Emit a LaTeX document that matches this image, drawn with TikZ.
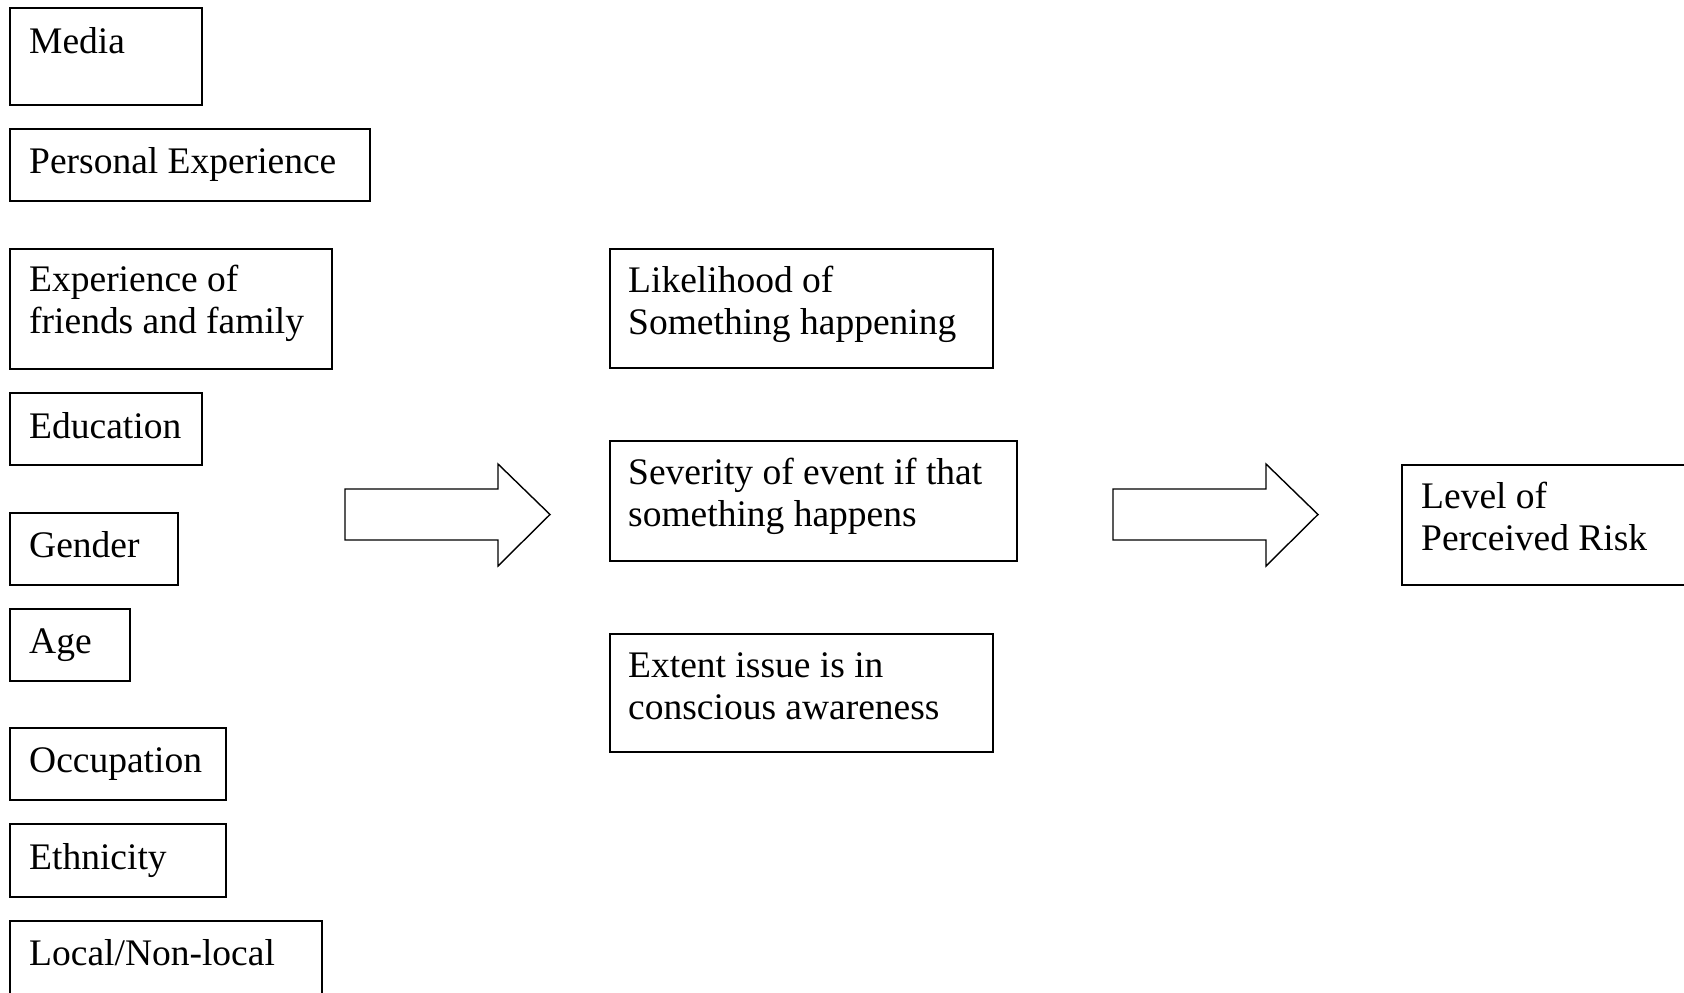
\documentclass[tikz,border=0pt]{standalone}
\usepackage{fontspec}
\setmainfont{Liberation Serif}
\newcommand\fstrut{\rule{0pt}{27pt}}
\newcommand\bx[8]{%
  \node[boxstyle, minimum width={#4-#2}, minimum height={#5-#3}] (#1) at (#2,#3) {};
  \node[txt] (#1-t) at (#6,#7-27) {\fstrut #8};}
\begin{document}
\begin{tikzpicture}[x=1pt,y=-1pt,
  boxstyle/.style={draw, line width=1.7pt, inner sep=0pt, anchor=north west},
  txt/.style={inner sep=0pt, anchor=north west, align=left, font=\fontsize{37.5}{42}\selectfont},
  blockarrow/.style={draw, line width=1.4pt, line join=miter}]
\useasboundingbox (0,0) rectangle (1684,993);
\fill[white] (0,0) rectangle (1684,993);
% left column
\bx{media}{9}{7}{201}{104}{29}{53}{Media}
\bx{pers}{9}{128}{369}{200}{29}{173}{Personal Experience}
\bx{expf}{9}{248}{331}{368}{29}{291}{Experience of\\friends and family}
\bx{edu}{9}{392}{201}{464}{29}{438}{Education}
\bx{gen}{9}{512}{177}{584}{29}{557}{Gender}
\bx{age}{9}{608}{129}{680}{29}{653}{Age}
\bx{occ}{9}{727}{225}{799}{29}{772}{Occupation}
\bx{eth}{9}{823}{225}{896}{29}{869}{Ethnicity}
\bx{loc}{9}{920}{321}{1010}{29}{965}{Local/Non-local}
% middle column
\bx{like}{609}{248}{992}{367}{628}{292}{Likelihood of\\Something happening}
\bx{sev}{609}{440}{1016}{560}{628}{484}{Severity of event if that\\something happens}
\bx{ext}{609}{633}{992}{751}{628}{677}{Extent issue is in\\conscious awareness}
% right
\bx{lvl}{1401}{464}{1700}{584}{1421}{508}{Level of\\Perceived Risk}
% block arrows
\coordinate (a1) at (345,489);
\draw[blockarrow] (a1) -- (498,489) -- (498,464) -- (550,514.5) -- (498,566) -- (498,540) -- (345,540) -- cycle;
\coordinate (a2) at (1113,489);
\draw[blockarrow] (a2) -- (1266,489) -- (1266,464) -- (1318,514.5) -- (1266,566) -- (1266,540) -- (1113,540) -- cycle;
\end{tikzpicture}
\end{document}
